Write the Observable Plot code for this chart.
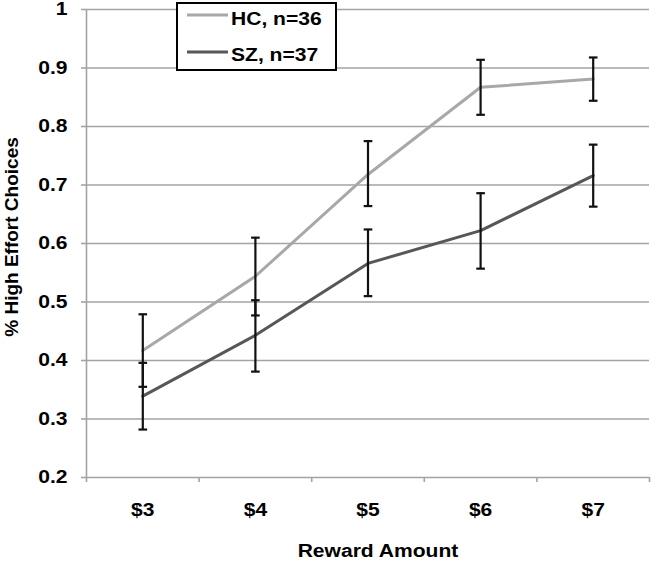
<!DOCTYPE html>
<html>
<head>
<meta charset="utf-8">
<script src="https://cdn.jsdelivr.net/npm/d3@7"></script>
<script src="https://cdn.jsdelivr.net/npm/@observablehq/plot@0.6"></script>
<style>
  html, body { margin: 0; padding: 0; background: #fff; }
  #chart { width: 657px; height: 561px; }
</style>
</head>
<body>
<div id="chart"></div>
<script>
// ---- data ----
const rewards = [3, 4, 5, 6, 7];
const rewardLabels = ["$3", "$4", "$5", "$6", "$7"];
const seriesNames = ["HC, n=36", "SZ, n=37"];
const seriesColors = ["#a8a8a8", "#575757"];
const hcMean = [0.417, 0.544, 0.718, 0.867, 0.881];
const hcLow  = [0.355, 0.477, 0.664, 0.820, 0.844];
const hcHigh = [0.479, 0.610, 0.775, 0.914, 0.918];
const szMean = [0.339, 0.443, 0.566, 0.622, 0.716];
const szLow  = [0.282, 0.381, 0.510, 0.557, 0.663];
const szHigh = [0.396, 0.503, 0.624, 0.686, 0.769];
const yTicks = [0.2, 0.3, 0.4, 0.5, 0.6, 0.7, 0.8, 0.9, 1.0];
const xTitle = "Reward Amount";
const yTitle = "% High Effort Choices";

// ---- build rows ----
const rows = [];
rewards.forEach((r, i) => {
  rows.push({series: seriesNames[0], reward: r, mean: hcMean[i], low: hcLow[i], high: hcHigh[i]});
});
rewards.forEach((r, i) => {
  rows.push({series: seriesNames[1], reward: r, mean: szMean[i], low: szLow[i], high: szHigh[i]});
});
const edges = [rewards[0] - 0.5, ...rewards.map(r => r + 0.5)];

const W = 657, H = 561;
const M = {left: 86, right: 8, top: 9, bottom: 84};
const gridColor = "#a3a3a3";
const font = "'Liberation Sans', Arial, sans-serif";
const FS = 18;
const STRETCH = 1.17;

// error-bar cap symbol
const cap = {
  draw(context, size) {
    const w = 4.3;
    context.moveTo(-w, 0);
    context.lineTo(w, 0);
  }
};

const chart = Plot.plot({
  width: W,
  height: H,
  marginLeft: M.left,
  marginRight: M.right,
  marginTop: M.top,
  marginBottom: M.bottom,
  style: {fontFamily: font, fontSize: FS + "px", fontWeight: "bold", color: "#000", background: "#fff", overflow: "visible"},
  x: {domain: [edges[0], edges[edges.length - 1]]},
  y: {domain: [yTicks[0], yTicks[yTicks.length - 1]]},
  color: {domain: seriesNames, range: seriesColors},
  marks: [
    Plot.ruleY(yTicks, {stroke: gridColor, strokeWidth: 1.6}),
    Plot.ruleX([edges[0]], {y1: yTicks[0], y2: yTicks[yTicks.length - 1], stroke: gridColor, strokeWidth: 1.6}),
    Plot.axisY({ticks: yTicks, tickSize: 5, tickPadding: 14, tickFormat: d => d === 1 ? "1" : d.toFixed(1),
                label: null, stroke: gridColor, strokeWidth: 1.6, fill: "#000", fontSize: FS, fontWeight: "bold"}),
    Plot.axisX({ticks: edges, tickSize: 5, tickFormat: () => "", label: null, stroke: gridColor, strokeWidth: 1.6}),
    Plot.axisX({ticks: rewards, tickSize: 0, tickPadding: 26, tickFormat: d => rewardLabels[rewards.indexOf(d)],
                label: null, fill: "#000", fontSize: FS, fontWeight: "bold"}),
    Plot.line(rows, {x: "reward", y: "mean", z: "series", stroke: "series", strokeWidth: 3}),
    Plot.ruleX(rows, {x: "reward", y1: "low", y2: "high", stroke: "#111", strokeWidth: 2.2}),
    Plot.dot(rows, {x: "reward", y: "low", symbol: cap, r: 4, stroke: "#111", strokeWidth: 2.2, fill: "none"}),
    Plot.dot(rows, {x: "reward", y: "high", symbol: cap, r: 4, stroke: "#111", strokeWidth: 2.2, fill: "none"})
  ]
});

document.getElementById("chart").appendChild(chart);
const svg = d3.select(chart);

// ---- axis titles ----
const xT = svg.append("text")
  .attr("x", 378).attr("y", 557)
  .attr("text-anchor", "middle")
  .attr("font-family", font).attr("font-size", FS).attr("font-weight", "bold").attr("fill", "#000")
  .text(xTitle);
svg.append("text")
  .attr("class", "ytitle")
  .attr("transform", `translate(18,237) rotate(-90)`)
  .attr("text-anchor", "middle")
  .attr("font-family", font).attr("font-size", 19).attr("font-weight", "bold").attr("fill", "#000")
  .text(yTitle);

// ---- legend (inside the plot area, top) ----
const lg = svg.append("g").attr("class", "legend");
lg.append("rect")
  .attr("x", 177).attr("y", 3).attr("width", 159).attr("height", 67)
  .attr("fill", "#fff").attr("stroke", "#000").attr("stroke-width", 2);
const rowsY = [15, 52];
const textY = [25, 61];
seriesNames.forEach((name, i) => {
  lg.append("line")
    .attr("x1", 187).attr("x2", 228).attr("y1", rowsY[i]).attr("y2", rowsY[i])
    .attr("stroke", seriesColors[i]).attr("stroke-width", 3);
  lg.append("text")
    .attr("x", 231).attr("y", textY[i])
    .attr("text-anchor", "start")
    .attr("font-family", font).attr("font-size", FS).attr("font-weight", "bold")
    .attr("fill", "#000")
    .text(name);
});

// ---- widen horizontal texts to match the reference's stretched lettering ----
svg.selectAll("text").each(function () {
  if (this.getAttribute("class") === "ytitle") return;
  if (!this.textContent) return;
  const L = this.getComputedTextLength();
  if (L > 0) {
    this.setAttribute("textLength", (L * STRETCH).toFixed(1));
    this.setAttribute("lengthAdjust", "spacingAndGlyphs");
  }
});
</script>
</body>
</html>
